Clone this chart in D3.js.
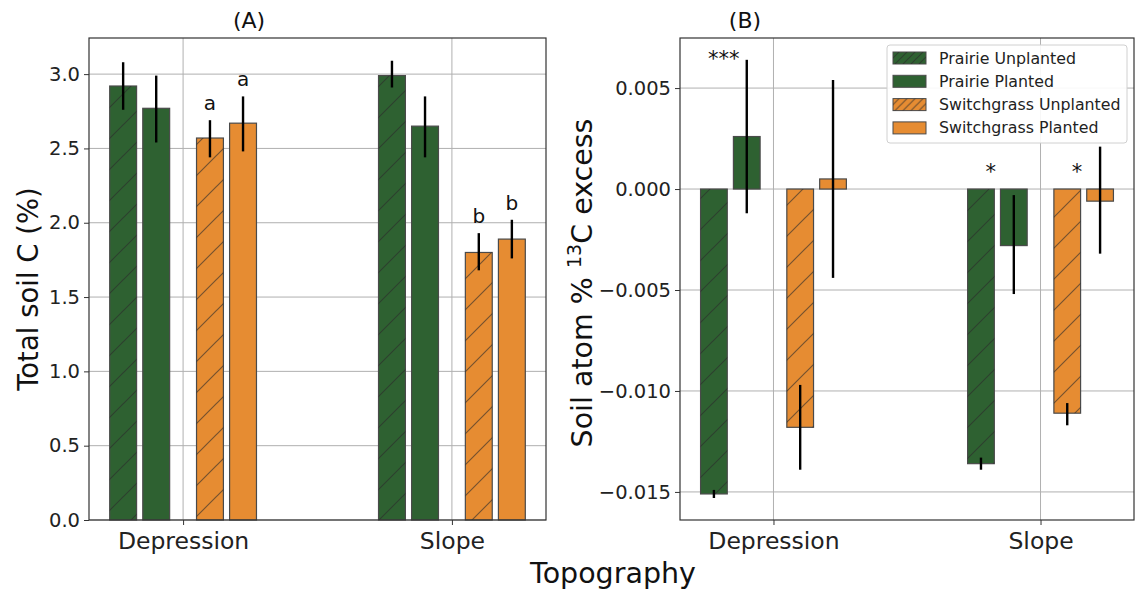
<!DOCTYPE html>
<html>
<head>
<meta charset="utf-8">
<script src="https://cdn.jsdelivr.net/npm/d3@7"></script>
<style>
  body { margin: 0; background: #fff; }
  svg { font-family: "DejaVu Sans", sans-serif; }
</style>
</head>
<body>
<div id="chart"></div>
<script>
// data
var topography = ["Depression", "Slope"];
var treatments = ["Prairie Unplanted", "Prairie Planted", "Switchgrass Unplanted", "Switchgrass Planted"];

// (A) total soil C (%), [treatment][topography]
var soilC    = [[2.92, 2.99], [2.77, 2.65], [2.57, 1.80], [2.67, 1.89]];
var soilCLo  = [[2.76, 2.91], [2.54, 2.44], [2.44, 1.68], [2.48, 1.76]];
var soilCHi  = [[3.08, 3.09], [2.99, 2.85], [2.69, 1.93], [2.85, 2.02]];
var soilCLetters = [["", ""], ["", ""], ["a", "b"], ["a", "b"]];
var soilCTicks = [0, 0.5, 1.0, 1.5, 2.0, 2.5, 3.0];

// (B) soil atom % 13C excess
var excess   = [[-0.0151, -0.0136], [0.0026, -0.0028], [-0.0118, -0.0111], [0.0005, -0.0006]];
var excessLo = [[-0.0153, -0.0139], [-0.0012, -0.0052], [-0.0139, -0.0117], [-0.0044, -0.0032]];
var excessHi = [[-0.0149, -0.0133], [0.0064, -0.0003], [-0.0097, -0.0106], [0.0054, 0.0021]];
var excessStars  = [["***", "*"], ["", ""], ["", "*"], ["", ""]];
var excessStarsY = [[0.0061, 0.0005], [0, 0], [0, 0.0005], [0, 0]];
var excessTicks = [-0.015, -0.010, -0.005, 0.000, 0.005];

// styling
var colors = ["#2e6131", "#2e6131", "#e68c32", "#e68c32"];
var hatched = [true, false, true, false];
var offsets = [-0.223, -0.1, 0.1, 0.223];
var barW = 0.1;

var W = 1143, H = 591;
var svg = d3.select("#chart").append("svg").attr("width", W).attr("height", H);
var defs = svg.append("defs");

function hatch(id, size) {
  var p = defs.append("pattern").attr("id", id)
    .attr("patternUnits", "userSpaceOnUse")
    .attr("width", size).attr("height", size);
  p.append("path")
    .attr("d", "M0," + size + "L" + size + ",0M" + (-size / 2) + "," + (size / 2) + "L" + (size / 2) + "," + (-size / 2) +
               "M" + (size / 2) + "," + (size * 1.5) + "L" + (size * 1.5) + "," + (size / 2))
    .attr("stroke", "#2a2a2a").attr("stroke-opacity", 0.6).attr("stroke-width", 1.2);
}
hatch("hatchBar", 31);
hatch("hatchLeg", 8);

function panel(o) {
  var x = d3.scaleLinear().domain([-0.35, 1.35]).range([o.left, o.right]);
  var y = d3.scaleLinear().domain(o.yDomain).range([520, 38]);
  var g = svg.append("g");

  // grid
  g.selectAll(".gy").data(o.ticks).enter().append("line")
    .attr("x1", o.left).attr("x2", o.right)
    .attr("y1", function(d){ return y(d); }).attr("y2", function(d){ return y(d); })
    .attr("stroke", "#b0b0b0").attr("stroke-width", 1);
  g.selectAll(".gx").data(topography).enter().append("line")
    .attr("x1", function(d,i){ return x(i); }).attr("x2", function(d,i){ return x(i); })
    .attr("y1", 38).attr("y2", 520)
    .attr("stroke", "#b0b0b0").attr("stroke-width", 1);

  // bars
  var cells = [];
  treatments.forEach(function(t, s){
    topography.forEach(function(c, k){
      cells.push({s: s, k: k, v: o.values[s][k], lo: o.lo[s][k], hi: o.hi[s][k],
                  lab: o.labels[s][k], labY: o.labelY ? o.labelY[s][k] : null});
    });
  });
  var bars = g.selectAll(".bar").data(cells).enter();
  bars.append("rect")
    .attr("x", function(d){ return x(d.k + offsets[d.s] - barW / 2); })
    .attr("width", function(d){ return x(barW) - x(0); })
    .attr("y", function(d){ return y(Math.max(0, d.v)); })
    .attr("height", function(d){ return Math.abs(y(d.v) - y(0)); })
    .attr("fill", function(d){ return colors[d.s]; })
    .attr("stroke", "#4a4a4a").attr("stroke-width", 1.2);
  bars.filter(function(d){ return hatched[d.s]; }).append("rect")
    .attr("x", function(d){ return x(d.k + offsets[d.s] - barW / 2); })
    .attr("width", function(d){ return x(barW) - x(0); })
    .attr("y", function(d){ return y(Math.max(0, d.v)); })
    .attr("height", function(d){ return Math.abs(y(d.v) - y(0)); })
    .attr("fill", "url(#hatchBar)").attr("stroke", "none");
  bars.append("line")
    .attr("x1", function(d){ return x(d.k + offsets[d.s]); })
    .attr("x2", function(d){ return x(d.k + offsets[d.s]); })
    .attr("y1", function(d){ return y(d.lo); }).attr("y2", function(d){ return y(d.hi); })
    .attr("stroke", "#000").attr("stroke-width", 2.4);

  // letters / stars
  g.selectAll(".lab").data(cells.filter(function(d){ return d.lab; })).enter().append("text")
    .attr("x", function(d){ return x(d.k + offsets[d.s] + (o.labelDx || 0)); })
    .attr("y", function(d){ return o.labelY ? y(d.labY) : y(d.hi) - 10; })
    .attr("text-anchor", "middle")
    .attr("font-size", o.labelSize)
    .attr("fill", "#111")
    .text(function(d){ return d.lab; });

  // frame
  g.append("rect").attr("x", o.left).attr("y", 38)
    .attr("width", o.right - o.left).attr("height", 482)
    .attr("fill", "none").attr("stroke", "#333").attr("stroke-width", 1.2);

  // axes
  var ya = g.append("g").attr("transform", "translate(" + o.left + ",0)")
    .call(d3.axisLeft(y).tickValues(o.ticks).tickFormat(o.fmt).tickSize(5).tickPadding(4));
  var xa = g.append("g").attr("transform", "translate(0,520)")
    .call(d3.axisBottom(x).tickValues([0, 1]).tickFormat(function(d){ return topography[d]; }).tickSize(5).tickPadding(7));
  [ya, xa].forEach(function(a){
    a.select(".domain").remove();
    a.selectAll("line").attr("stroke", "#333");
    a.selectAll("text").attr("fill", "#222").attr("font-family", "DejaVu Sans");
  });
  ya.selectAll("text").attr("font-size", 19.5);
  xa.selectAll("text").attr("font-size", 23.5);

  svg.append("text").attr("x", o.titleX).attr("y", 28)
    .attr("text-anchor", "middle").attr("font-size", 22).attr("fill", "#111").text(o.title);
  return {x: x, y: y};
}

panel({left: 89, right: 546, yDomain: [0, 3.243], ticks: soilCTicks, fmt: d3.format(".1f"),
  values: soilC, lo: soilCLo, hi: soilCHi, labels: soilCLetters, labelSize: 20,
  title: "(A)", titleX: 249});

panel({left: 680, right: 1134, yDomain: [-0.01639, 0.00748], ticks: excessTicks, fmt: d3.format(".3f"),
  values: excess, lo: excessLo, hi: excessHi, labels: excessStars, labelY: excessStarsY, labelDx: 0.037,
  labelSize: 21, title: "(B)", titleX: 745});

// axis labels
svg.append("text").attr("transform", "translate(38,289) rotate(-90)")
  .attr("text-anchor", "middle").attr("font-size", 27.5).attr("fill", "#111")
  .text("Total soil C (%)");
var yl = svg.append("text").attr("transform", "translate(592,283) rotate(-90)")
  .attr("text-anchor", "middle").attr("font-size", 28.5).attr("fill", "#111");
yl.append("tspan").text("Soil atom % ");
yl.append("tspan").attr("font-size", 19).attr("dy", -11).text("13");
yl.append("tspan").attr("dy", 11).text("C excess");
svg.append("text").attr("x", 613).attr("y", 583)
  .attr("text-anchor", "middle").attr("font-size", 28.5).attr("fill", "#111").text("Topography");

// legend
var leg = svg.append("g").attr("transform", "translate(887,45)");
leg.append("rect").attr("width", 240).attr("height", 98).attr("rx", 3)
  .attr("fill", "#fff").attr("fill-opacity", 0.9).attr("stroke", "#d0d0d0");
var li = leg.selectAll(".li").data(treatments).enter().append("g")
  .attr("transform", function(d,i){ return "translate(6," + (13 + i * 23.3) + ")"; });
li.append("rect").attr("x", 0).attr("y", -6).attr("width", 33).attr("height", 12)
  .attr("fill", function(d,i){ return colors[i]; }).attr("stroke", "#4a4a4a").attr("stroke-width", 1);
li.filter(function(d,i){ return hatched[i]; }).append("rect").attr("x", 0).attr("y", -6).attr("width", 33).attr("height", 12)
  .attr("fill", "url(#hatchLeg)");
li.append("text").attr("x", 46).attr("y", 0).attr("dy", "0.35em")
  .attr("font-size", 15.8).attr("fill", "#222").text(function(d){ return d; });
</script>
</body>
</html>
